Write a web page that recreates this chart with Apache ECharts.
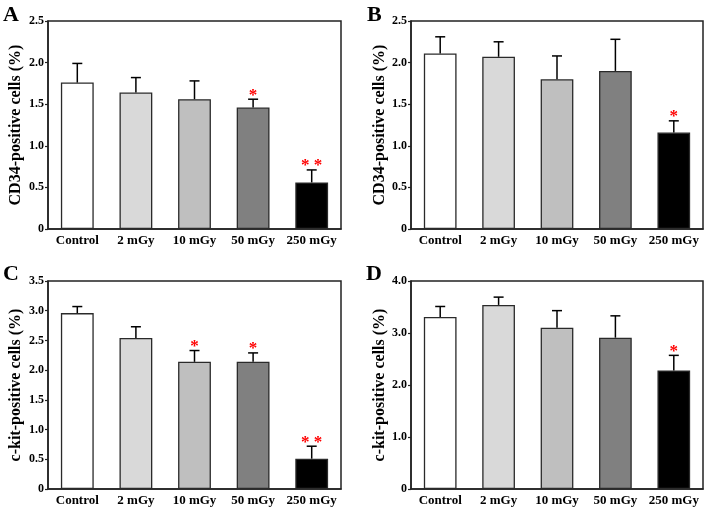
<!DOCTYPE html>
<html>
<head>
<meta charset="utf-8">
<script src="https://cdn.jsdelivr.net/npm/echarts@6/dist/echarts.min.js"></script>
<style>
html,body{margin:0;padding:0;background:#fff;}
#chart{width:707px;height:508px;}
</style>
</head>
<body>
<div id="chart"></div>
<script>
// ---- data ----
const categories = ['Control', '2 mGy', '10 mGy', '50 mGy', '250 mGy'];

const panelLetters = ['A', 'B', 'C', 'D'];
const yTitles = ['CD34-positive cells (%)', 'CD34-positive cells (%)', 'c-kit-positive cells (%)', 'c-kit-positive cells (%)'];
const yMax = [2.5, 2.5, 3.5, 4.0];
const yInterval = [0.5, 0.5, 0.5, 1.0];

const meanA = [1.76, 1.64, 1.56, 1.46, 0.56];
const sdA   = [0.23, 0.18, 0.22, 0.10, 0.15];
const sigA  = ['', '', '', '*', '**'];

const meanB = [2.11, 2.07, 1.80, 1.90, 1.16];
const sdB   = [0.20, 0.18, 0.28, 0.38, 0.14];
const sigB  = ['', '', '', '', '*'];

const meanC = [2.96, 2.54, 2.14, 2.14, 0.51];
const sdC   = [0.11, 0.19, 0.19, 0.15, 0.21];
const sigC  = ['', '', '*', '*', '**'];

const meanD = [3.31, 3.54, 3.10, 2.91, 2.28];
const sdD   = [0.20, 0.15, 0.33, 0.42, 0.29];
const sigD  = ['', '', '', '', '*'];

const barColors = ['#ffffff', '#d9d9d9', '#bfbfbf', '#808080', '#000000'];

// ---- layout ----
const means = [meanA, meanB, meanC, meanD];
const sds = [sdA, sdB, sdC, sdD];
const sigs = [sigA, sigB, sigC, sigD];
const grids = [
  {left: 48, top: 21, width: 293, height: 208},
  {left: 411, top: 21, width: 292, height: 208},
  {left: 48, top: 281, width: 293, height: 208},
  {left: 411, top: 281, width: 292, height: 208}
];
const nameGaps = [24, 19, 24, 19];
const letterPos = [[3, 4], [367, 4], [3, 263], [366, 263]];
const FONT = '"Liberation Serif", "Times New Roman", serif';

const option = {
  animation: false,
  backgroundColor: '#fff',
  grid: grids.map(g => Object.assign({show: true, borderColor: '#222', borderWidth: 1.5, backgroundColor: 'transparent'}, g)),
  title: panelLetters.map((t, i) => ({
    text: t, left: letterPos[i][0], top: letterPos[i][1], padding: 0,
    textStyle: {fontFamily: FONT, fontWeight: 'bold', fontSize: 22, color: '#000'}
  })),
  xAxis: grids.map((g, i) => ({
    type: 'category', gridIndex: i, data: categories,
    axisLine: {show: true, lineStyle: {color: '#222', width: 1.5}},
    axisTick: {show: false},
    axisLabel: {fontFamily: FONT, fontWeight: 'bold', fontSize: 13, color: '#000', margin: 5, interval: 0}
  })),
  yAxis: grids.map((g, i) => ({
    type: 'value', gridIndex: i, min: 0, max: yMax[i], interval: yInterval[i],
    name: yTitles[i], nameLocation: 'middle', nameGap: nameGaps[i], nameRotate: 90,
    nameTextStyle: {fontFamily: FONT, fontWeight: 'bold', fontSize: 16, color: '#000'},
    axisLine: {show: true, lineStyle: {color: '#222', width: 1.5}},
    axisTick: {show: true, length: 3, inside: false, lineStyle: {color: '#222', width: 1.2}},
    splitLine: {show: false},
    axisLabel: {fontFamily: FONT, fontWeight: 'bold', fontSize: 12, color: '#000', margin: 4,
      formatter: v => v === 0 ? '0' : v.toFixed(1)}
  })),
  series: []
};

for (let i = 0; i < 4; i++) {
  option.series.push({
    type: 'bar', xAxisIndex: i, yAxisIndex: i, barWidth: '56%',
    data: means[i].map((v, k) => ({value: v, itemStyle: {color: barColors[k], borderColor: '#2a2a2a', borderWidth: 1.3}})),
    z: 2
  });
  const m = means[i], s = sds[i], sg = sigs[i];
  option.series.push({
    type: 'custom', xAxisIndex: i, yAxisIndex: i, z: 3,
    data: m.map((v, k) => [k, v, v + s[k], sg[k]]),
    renderItem: function (params, api) {
      const x = api.value(0);
      const p0 = api.coord([x, api.value(1)]);
      const p1 = api.coord([x, api.value(2)]);
      const half = 5;
      const children = [
        {type: 'line', shape: {x1: p0[0], y1: p0[1], x2: p1[0], y2: p1[1]}, style: {stroke: '#000', lineWidth: 1.5}},
        {type: 'line', shape: {x1: p1[0] - half, y1: p1[1], x2: p1[0] + half, y2: p1[1]}, style: {stroke: '#000', lineWidth: 1.5}}
      ];
      const star = sg[params.dataIndex];
      if (star) {
        children.push({type: 'text', style: {text: star.split('').join(' '), x: p1[0], y: p1[1] - 4,
          textAlign: 'center', textVerticalAlign: 'middle',
          font: 'bold 17px ' + FONT, fill: '#ff0000'}});
      }
      return {type: 'group', children: children};
    }
  });
}

const chart = echarts.init(document.getElementById('chart'), null, {renderer: 'canvas'});
chart.setOption(option);
</script>
</body>
</html>
